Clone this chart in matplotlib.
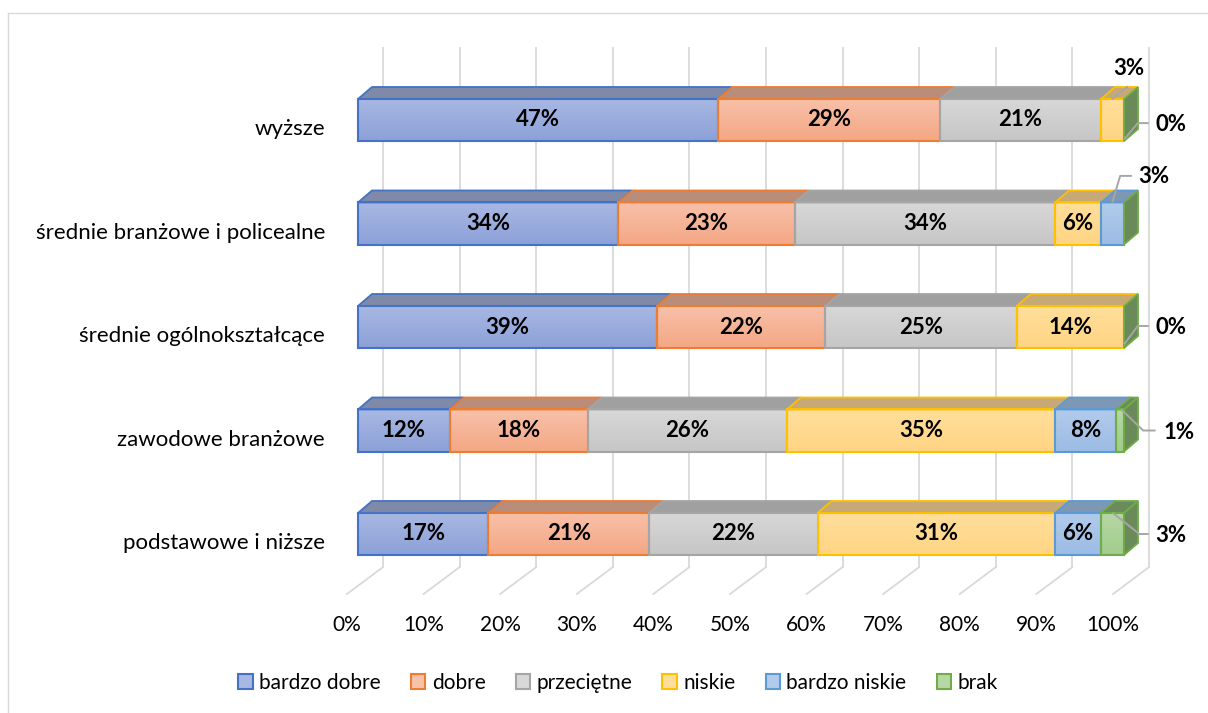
import numpy as np
import matplotlib
matplotlib.use("Agg")
import matplotlib.pyplot as plt
from matplotlib.patches import Polygon, Rectangle, Patch
from matplotlib.colors import LinearSegmentedColormap

plt.rcParams["font.family"] = ["Lato", "DejaVu Sans"]

categories = [
    "wyższe",
    "średnie branżowe i policealne",
    "średnie ogólnokształcące",
    "zawodowe branżowe",
    "podstawowe i niższe",
]
series_names = ["bardzo dobre", "dobre", "przeciętne", "niskie", "bardzo niskie", "brak"]
bardzo_dobre = [47, 34, 39, 12, 17]
dobre = [29, 23, 22, 18, 21]
przecietne = [21, 34, 25, 26, 22]
niskie = [3, 6, 14, 35, 31]
bardzo_niskie = [0, 3, 0, 8, 6]
brak = [0, 0, 0, 1, 3]
values = [bardzo_dobre, dobre, przecietne, niskie, bardzo_niskie, brak]
ticks = [0, 10, 20, 30, 40, 50, 60, 70, 80, 90, 100]

# colours: edge, front top, front bottom, top face
edge_c = ["#4472C4", "#ED7D31", "#A5A5A5", "#FFC000", "#5B9BD5", "#70AD47"]
front_hi = ["#A9B8E3", "#F8C1AA", "#D8D8D8", "#FFDE9C", "#B2CBEB", "#B6D8A4"]
front_lo = ["#8CA1D8", "#F4A784", "#C6C6C6", "#FFD583", "#9CBCE5", "#A2CC8C"]
top_c = ["#7F8AA8", "#BA8C7A", "#A0A0A0", "#C6A976", "#7E97B4", "#6B8A5E"]
side_c = "#6A8A5A"
grid_c = "#D9D9D9"
lead_c = "#A6A6A6"

# outside labels: (row, series, text x, text dy, leader points, anchored to segment middle?)
outside = [
    (0, 3, 2.1, -0.50, [(0.0, -0.205), (1.9, -0.32)], True),
    (0, 5, 106.1, 0.04, [(100.1, 0.18), (101.8, 0.03), (103.1, 0.03)], False),
    (1, 4, 103.9, -0.45, [(0.0, -0.21), (1.0, -0.46), (2.4, -0.46)], True),
    (2, 5, 106.1, 0.0, [(100.1, 0.16), (101.8, -0.01), (103.1, -0.01)], False),
    (3, 5, 107.2, 0.015, [(99.7, -0.2), (102.5, 0.0), (104.0, 0.0)], False),
    (4, 5, 106.1, 0.01, [(98.6, -0.2), (102.0, 0.0), (103.1, 0.0)], False),
]

W, H = 1208, 713
fig = plt.figure(figsize=(W / 100, H / 100), dpi=100)
fig.lines.append(plt.Line2D([8 / W, 1], [1 - 13 / H, 1 - 13 / H], transform=fig.transFigure, color="#D9D9D9", lw=1))
fig.lines.append(plt.Line2D([8 / W, 8 / W], [0, 1 - 13 / H], transform=fig.transFigure, color="#D9D9D9", lw=1))

# front plane: 0% -> 358 px, 100% -> 1124 px; row 0 -> 120 px, row 4 -> 534 px
px_x, px_y = 7.66, 103.5
x0, x1 = -5.0, 110.0
y0, y1 = -0.75, 4.95
ax = fig.add_axes([(358 + x0 * px_x) / W, (H - (120 + y1 * px_y)) / H,
                   (x1 - x0) * px_x / W, (y1 - y0) * px_y / H])
ax.axis("off")

hh = 0.203   # half bar height
DX, DY = 1.83, 0.116   # bar depth
GX = 3.26   # back wall offset
FX, FY = 4.70, 0.26   # floor depth

# back wall gridlines + floor
for t in ticks:
    ax.plot([t + GX, t + GX], [-0.70, 4.32], color=grid_c, lw=1.3, zorder=1)
    ax.plot([t + GX, t + GX - FX], [4.32, 4.32 + FY], color=grid_c, lw=1.3, zorder=1)
    ax.text(t + GX - FX, 4.88, f"{t}%", ha="center", va="center", fontsize=15, color="#000000")

grad = np.linspace(0, 1, 64).reshape(-1, 1)
for i, cat in enumerate(categories):
    left = 0
    for s in range(len(values)):
        v = values[s][i]
        cm = LinearSegmentedColormap.from_list("g", [front_hi[s], front_lo[s]])
        if v > 0:
            ax.imshow(grad, extent=(left, left + v, i + hh, i - hh), cmap=cm, aspect="auto", zorder=3)
            ax.add_patch(Rectangle((left, i - hh), v, 2 * hh, fill=False, ec=edge_c[s], lw=1.5, zorder=4))
            top = Polygon([(left, i - hh), (left + v, i - hh), (left + v + DX, i - hh - DY), (left + DX, i - hh - DY)],
                          closed=True, fc=top_c[s], ec=edge_c[s], lw=1.3, zorder=3)
            ax.add_patch(top)
            if v >= 5:
                ax.text(left + v / 2, i, f"{v}%", ha="center", va="center", fontsize=16,
                        fontweight="bold", color="#000000", zorder=6)
        left += v
    # right side of the bar
    side = Polygon([(left, i - hh), (left + DX, i - hh - DY), (left + DX, i + hh - DY), (left, i + hh)],
                   closed=True, fc=side_c, ec=edge_c[-1], lw=1.3, zorder=4)
    ax.add_patch(side)
    ax.text(-4.3, i + 0.09, cat, ha="right", va="center", fontsize=16, color="#000000")

for row, s, tx, ty, pts, rel in outside:
    start = sum(values[k][row] for k in range(s))
    mid = start + values[s][row] / 2
    if rel:
        xs = [mid + p[0] for p in pts]
        tx_abs = mid + tx if tx < 50 else tx
    else:
        xs = [p[0] for p in pts]
        tx_abs = tx
    ys = [row + p[1] for p in pts]
    ax.plot(xs, ys, color=lead_c, lw=1.4, zorder=7)
    ax.text(tx_abs, row + ty, f"{values[s][row]}%", ha="center", va="center", fontsize=16,
            fontweight="bold", color="#000000", zorder=8)

ax.set_xlim(x0, x1)
ax.set_ylim(y1, y0)

handles = [Patch(fc=front_hi[s], ec=edge_c[s], lw=1.5, label=series_names[s]) for s in range(len(series_names))]
fig.legend(handles=handles, loc="center", bbox_to_anchor=(618 / W, 1 - 683 / H), ncol=6, frameon=False,
           fontsize=15, handlelength=0.7, handleheight=0.7, handletextpad=0.3, columnspacing=1.45)

fig.savefig("out.png", dpi=100)
